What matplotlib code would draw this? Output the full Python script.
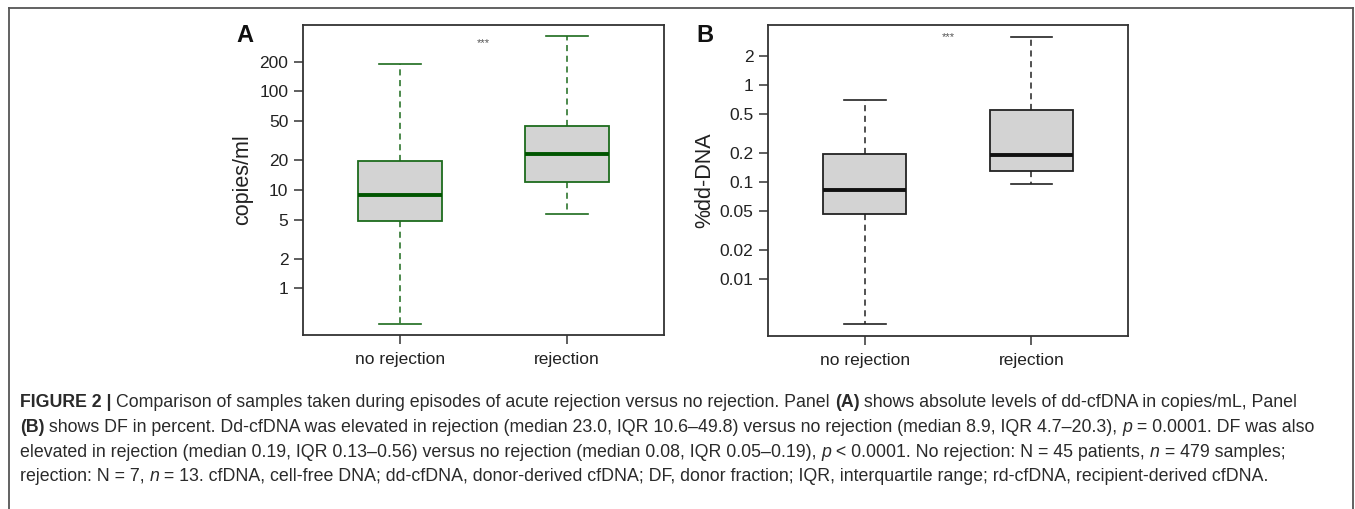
import math
import matplotlib
matplotlib.use("Agg")
import matplotlib.pyplot as plt
from matplotlib import font_manager
from matplotlib.lines import Line2D
from matplotlib.ticker import NullLocator

# data
groups = ["no rejection", "rejection"]

# panel A: copies/ml
a_whislo = [0.44, 5.7]
a_q1 = [4.8, 11.9]
a_med = [8.9, 23.3]
a_q3 = [19.8, 44.3]
a_whishi = [188, 361]
a_ticks = [1, 2, 5, 10, 20, 50, 100, 200]
a_ticklabels = ["1", "2", "5", "10", "20", "50", "100", "200"]

# panel B: %dd-DNA
b_whislo = [0.0034, 0.095]
b_q1 = [0.047, 0.129]
b_med = [0.083, 0.19]
b_q3 = [0.196, 0.556]
b_whishi = [0.71, 3.18]
b_ticks = [0.01, 0.02, 0.05, 0.1, 0.2, 0.5, 1, 2]
b_ticklabels = ["0.01", "0.02", "0.05", "0.1", "0.2", "0.5", "1", "2"]

caption_lines = [
    [("FIGURE 2 | ", "bold", "normal"),
     ("Comparison of samples taken during episodes of acute rejection versus no rejection. Panel ", "normal", "normal"),
     ("(A)", "bold", "normal"),
     (" shows absolute levels of dd-cfDNA in copies/mL, Panel", "normal", "normal")],
    [("(B)", "bold", "normal"),
     (" shows DF in percent. Dd-cfDNA was elevated in rejection (median 23.0, IQR 10.6\u201349.8) versus no rejection (median 8.9, IQR 4.7\u201320.3), ", "normal", "normal"),
     ("p", "normal", "italic"),
     (" = 0.0001. DF was also", "normal", "normal")],
    [("elevated in rejection (median 0.19, IQR 0.13\u20130.56) versus no rejection (median 0.08, IQR 0.05\u20130.19), ", "normal", "normal"),
     ("p", "normal", "italic"),
     (" < 0.0001. No rejection: N = 45 patients, ", "normal", "normal"),
     ("n", "normal", "italic"),
     (" = 479 samples;", "normal", "normal")],
    [("rejection: N = 7, ", "normal", "normal"),
     ("n", "normal", "italic"),
     (" = 13. cfDNA, cell-free DNA; dd-cfDNA, donor-derived cfDNA; DF, donor fraction; IQR, interquartile range; rd-cfDNA, recipient-derived cfDNA.", "normal", "normal")],
]

plt.rcParams["font.family"] = ["Liberation Sans", "DejaVu Sans"]

W, H = 1355, 509
fig = plt.figure(figsize=(W / 100, H / 100), dpi=100)


def px_axes(l, t, r, b):
    return fig.add_axes([l / W, 1 - b / H, (r - l) / W, (b - t) / H])


def draw_panel(ax, whislo, q1, med, q3, whishi, edge, medcol, ticks, ticklabels, ylabel, label_x, star_y):
    stats = []
    for i in range(len(groups)):
        stats.append(dict(whislo=whislo[i], q1=q1[i], med=med[i], q3=q3[i],
                          whishi=whishi[i], label=groups[i]))
    ax.set_yscale("log")
    ax.bxp(stats, positions=[1, 2], widths=0.5, capwidths=0.25, showfliers=False,
           patch_artist=True,
           boxprops=dict(facecolor="#d3d3d3", edgecolor=edge, linewidth=1.3),
           medianprops=dict(color=medcol, linewidth=2.8, solid_capstyle="butt"),
           whiskerprops=dict(color=edge, linewidth=1.1, linestyle=(0, (4, 3))),
           capprops=dict(color=edge, linewidth=1.2))
    # R style limits: 4% padding on the log range
    lo, hi = math.log10(min(whislo)), math.log10(max(whishi))
    pad = 0.04 * (hi - lo)
    ax.set_ylim(10 ** (lo - pad), 10 ** (hi + pad))
    ax.set_xlim(0.42, 2.58)
    ax.set_yticks(ticks)
    ax.set_yticklabels(ticklabels)
    ax.yaxis.set_minor_locator(NullLocator())
    ax.tick_params(axis="y", direction="out", length=6.5, width=1.1, color="#333333",
                   labelsize=12.5, pad=4, labelcolor="#222222")
    ax.tick_params(axis="x", direction="out", length=6.5, width=1.1, color="#333333",
                   labelsize=12.5, pad=6, labelcolor="#222222")
    for s in ax.spines.values():
        s.set_linewidth(1.3)
        s.set_color("#333333")
    ax.set_ylabel(ylabel, fontsize=15.5, color="#222222")
    ax.yaxis.set_label_coords(label_x, 0.5)
    ax.text(0.5, star_y, "***", transform=ax.transAxes, ha="center", va="center",
            fontsize=8, color="#555555")


axA = px_axes(303, 25, 664, 335)
draw_panel(axA, a_whislo, a_q1, a_med, a_q3, a_whishi, "#1d6b1d", "#005500",
           a_ticks, a_ticklabels, "copies/ml", -0.139, 0.942)

axB = px_axes(768, 25, 1128, 336)
draw_panel(axB, b_whislo, b_q1, b_med, b_q3, b_whishi, "#222222", "#111111",
           b_ticks, b_ticklabels, "%dd-DNA", -0.147, 0.961)

fig.text(244.5 / W, 1 - 36 / H, "A", fontsize=17, fontweight="bold", ha="center", va="center", color="#111111")
fig.text(705 / W, 1 - 36 / H, "B", fontsize=17, fontweight="bold", ha="center", va="center", color="#111111")

# frame around the figure
for xs, ys in [([9, 9], [509, 8]), ([9, 1353], [8, 8]), ([1353, 1353], [8, 509])]:
    fig.add_artist(Line2D([x / W for x in xs], [1 - y / H for y in ys],
                          transform=fig.transFigure, color="#555555", lw=1.3))

# caption, fitted to the width of the second line
cap_font = "Liberation Sans Narrow"
try:
    font_manager.findfont(cap_font, fallback_to_default=False)
except Exception:
    cap_font = "Liberation Sans"

renderer = fig.canvas.get_renderer()


def line_width(segs, size):
    total = 0
    for txt, weight, style in segs:
        t = fig.text(0, 0, txt, fontsize=size, fontweight=weight, fontstyle=style, family=cap_font)
        total += t.get_window_extent(renderer).width
        t.remove()
    return total


base = 10
cap_size = base * 1300 / line_width(caption_lines[1], base)

baselines = [407, 432, 457, 481]
for segs, yb in zip(caption_lines, baselines):
    x = 20
    for txt, weight, style in segs:
        t = fig.text(x / W, 1 - yb / H, txt, fontsize=cap_size, fontweight=weight,
                     fontstyle=style, family=cap_font, ha="left", va="baseline", color="#2a2a2a")
        x += t.get_window_extent(renderer).width

fig.savefig("out.png", dpi=100)
